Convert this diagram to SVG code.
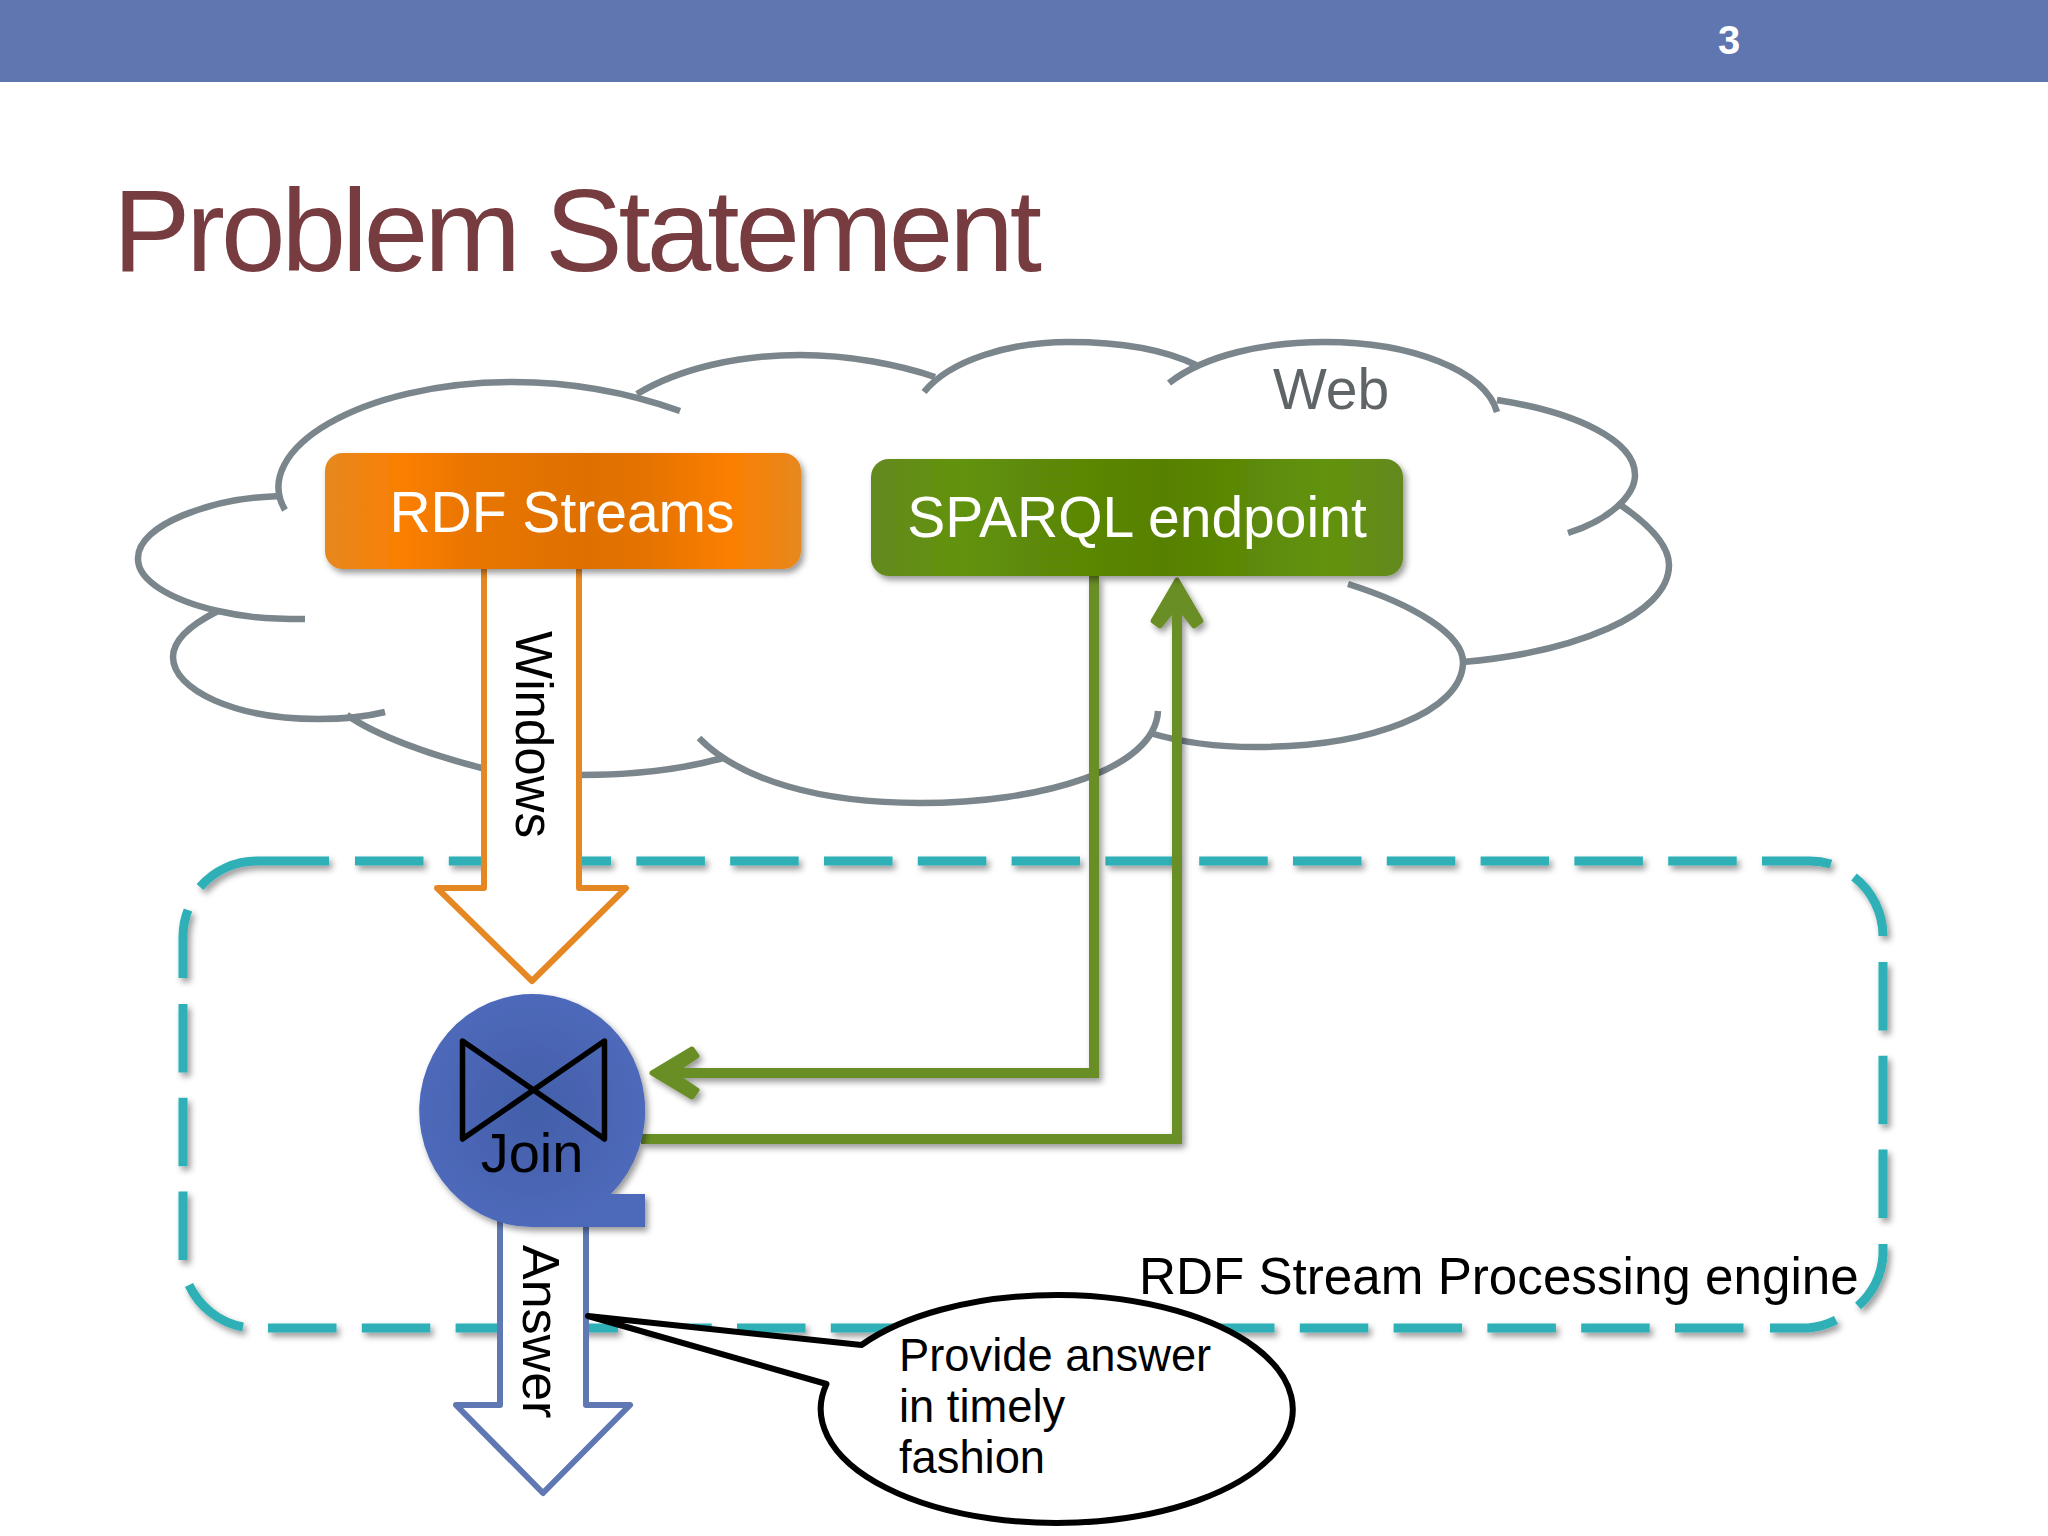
<svg xmlns="http://www.w3.org/2000/svg" width="2048" height="1536" viewBox="0 0 2048 1536">
<style>
text{font-family:"Liberation Sans",Arial,sans-serif}
.cloud path{fill:none;stroke:#7a868c;stroke-width:6.500}
.dash path{fill:none;stroke:#2fb0b6;stroke-width:9}
.blk{fill:#000}
.hollow{fill:#fff;stroke-width:6;stroke-linejoin:round}
.grn{filter:url(#sh)}
.grn path{fill:none;stroke:#6a8e25;stroke-width:10}
.grn path.head{fill:#6a8e25;stroke-width:5;stroke-linejoin:round}
</style>
<defs>
<filter id="sh" x="-20%" y="-20%" width="140%" height="140%"><feDropShadow dx="3" dy="4" stdDeviation="3" flood-color="#000" flood-opacity=".4"/></filter>
<linearGradient id="og" x1="0" x2="1" y1="0" y2="0">
<stop offset="0" stop-color="#e6881f"/><stop offset=".17" stop-color="#fb7f00"/><stop offset=".3" stop-color="#e97600"/><stop offset=".55" stop-color="#df7000"/><stop offset=".68" stop-color="#e57300"/><stop offset=".85" stop-color="#fb7f00"/><stop offset="1" stop-color="#e6881f"/>
</linearGradient>
<linearGradient id="gg" x1="0" x2="1" y1="0" y2="0">
<stop offset="0" stop-color="#64891f"/><stop offset=".17" stop-color="#62930b"/><stop offset=".3" stop-color="#5d8a07"/><stop offset=".55" stop-color="#578105"/><stop offset=".68" stop-color="#5b8706"/><stop offset=".85" stop-color="#62930b"/><stop offset="1" stop-color="#64891f"/>
</linearGradient>
<radialGradient id="bg"><stop offset="0" stop-color="#425fa9"/><stop offset="1" stop-color="#4e69ba"/></radialGradient>
</defs>
<rect width="2048" height="1536" fill="#fff"/>
<g id="header">
<rect width="2048" height="82" fill="#6076b0"/>
<text x="1718" y="54" font-size="40" font-weight="700" fill="#fff">3</text>
</g>
<text id="title" x="113" y="271" font-size="116" letter-spacing="-4" fill="#773c40">Problem Statement</text>
<g id="web-cloud" class="cloud">
<path d="M285 510C250 450 360 382 513 382C580 382 635 395 680 411"/>
<path d="M637 394C680 368 740 355 800 355C850 355 900 365 935 377"/>
<path d="M924 392C950 360 1010 342 1069 342C1120 342 1165 350 1196 365"/>
<path d="M1169 383C1205 355 1265 342 1325 342C1410 342 1485 370 1497 412"/>
<path d="M1497 400C1575 412 1635 440 1635 475C1635 495 1610 520 1568 533"/>
<path d="M1619 504C1650 525 1669 545 1669 565C1669 615 1575 652 1463 662"/>
<path d="M1348 584C1415 605 1463 635 1463 662C1463 712 1370 747 1256 747C1215 747 1180 742 1150 733"/>
<path d="M1158 711C1155 770 1040 803 920 803C820 803 740 780 699 738"/>
<path d="M723 758C680 770 630 775 579 775C540 775 510 775 482 768C430 755 375 735 347 715"/>
<path d="M385 712C365 717 340 719 318 719C235 719 173 690 173 657C173 640 190 625 218 611"/>
<path d="M305 619C260 619 240 616 218 611C170 600 137 580 138 558C138 525 210 498 281 496"/>
<text x="1273" y="409" font-size="57" fill="#5f6467">Web</text>
</g>
<g id="engine">
<g class="dash" filter="url(#sh)">
<path d="M329 861H257A75 75 0 0 0 200 887"/>
<path d="M355 861H1737" stroke-dasharray="68.500 25.300"/>
<path d="M1762 861H1808A75 75 0 0 1 1831 864"/>
<path d="M1854 877A75 75 0 0 1 1883 936"/>
<path d="M1883 962V1218" stroke-dasharray="68.500 25.300"/>
<path d="M1883 1244V1255A75 75 0 0 1 1858 1306"/>
<path d="M1770 1328H1808A75 75 0 0 0 1836 1320"/>
<path d="M268 1328H1745" stroke-dasharray="68.500 25.300"/>
<path d="M189 1285A75 75 0 0 0 243 1327"/>
<path d="M183 1004V1262" stroke-dasharray="68.500 25.300"/>
<path d="M183 978V936A75 75 0 0 1 188 910"/>
</g>
<text x="1139" y="1294" font-size="51.200" class="blk">RDF Stream Processing engine</text>
</g>
<g id="connectors">
<g id="windows-arrow">
<path class="hollow" stroke="#e58823" d="M484 569V888H437L532 981L626 888H579V569"/>
<text transform="translate(516 631) rotate(90)" font-size="51" class="blk">Windows</text>
</g>
<g id="sparql-to-join" class="grn">
<path d="M1094 576V1073H665"/>
<path class="head" d="M652 1073L692 1049L697 1056L672 1073L697 1090L692 1097Z"/>
</g>
<g id="join-to-sparql" class="grn">
<path d="M641 1139H1177V600"/>
<path class="head" d="M1177 580L1201 621L1194 626L1177 605L1160 626L1153 621Z"/>
</g>
<g id="answer-arrow">
<path class="hollow" stroke="#5f78b3" d="M500 1220V1405H456L543 1493L630 1405H586V1220"/>
<text transform="translate(523 1245) rotate(90)" font-size="52" class="blk">Answer</text>
</g>
</g>
<g id="rdf-streams">
<rect x="325" y="453" width="476" height="116" rx="18" fill="url(#og)" filter="url(#sh)"/>
<text x="562" y="532" font-size="57" fill="#fff" text-anchor="middle">RDF Streams</text>
</g>
<g id="sparql-endpoint">
<rect x="871" y="459" width="532" height="117" rx="18" fill="url(#gg)" filter="url(#sh)"/>
<text x="1137" y="537" font-size="57" fill="#fff" text-anchor="middle">SPARQL endpoint</text>
</g>
<g id="join">
<path d="M532 1227A113 116.500 0 1 1 611 1194H645V1227Z" fill="url(#bg)" filter="url(#sh)"/>
<path d="M462.500 1041L604.500 1139V1041L462.500 1139Z" fill="none" stroke="#000" stroke-width="5.500" stroke-linejoin="round"/>
<text x="532" y="1172" font-size="56" text-anchor="middle" class="blk">Join</text>
</g>
<g id="callout">
<path d="M861.500 1345L588 1316L826.500 1384A236 114 0 1 0 861.500 1345Z" fill="#fff" stroke="#000" stroke-width="6" stroke-linejoin="round"/>
<text x="899" y="1371" font-size="45.300" class="blk">Provide answer</text>
<text x="899" y="1422" font-size="45.300" class="blk">in timely</text>
<text x="899" y="1473" font-size="45.300" class="blk">fashion</text>
</g>
</svg>
